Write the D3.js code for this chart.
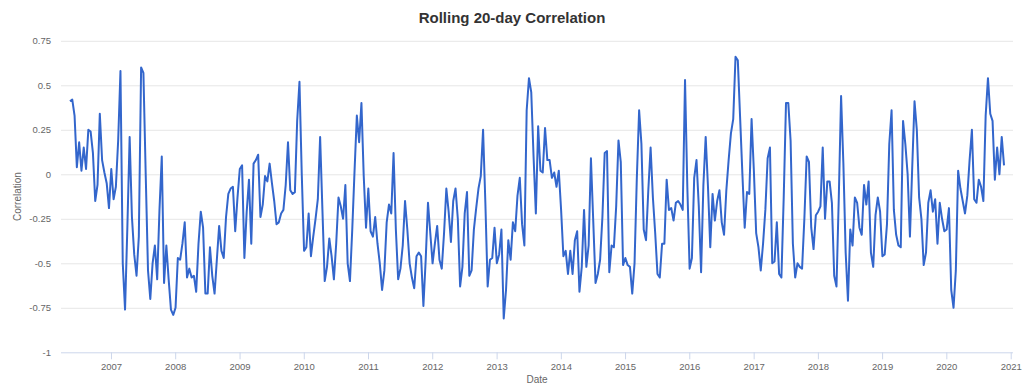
<!DOCTYPE html>
<html><head><meta charset="utf-8">
<script src="https://cdn.jsdelivr.net/npm/d3@7"></script>
<style>
body{margin:0;background:#fff}
svg{display:block;font-family:"Liberation Sans",Arial,Helvetica,sans-serif}
</style>
</head><body>
<svg id="chart" width="1024" height="392"></svg>
<script>
const chartTitle = "Rolling 20-day Correlation";
const yAxisTitle = "Correlation";
const xAxisTitle = "Date";
const firstDate = "2006-05-13";
const lastDate = "2020-11-24";
const yTickValues = [-1, -0.75, -0.5, -0.25, 0, 0.25, 0.5, 0.75];
const xTickYears = [2007,2008,2009,2010,2011,2012,2013,2014,2015,2016,2017,2018,2019,2020,2021];

// Correlation values, in time order (split by period)
const corrA = [0.41,0.42,0.33,0.04,0.18,0.02,0.15,0.03,0.25,0.24,0.12,-0.15,-0.06,0.34,0.08,0.01,-0.05,-0.19,0.03,-0.14,-0.07,0.19,0.58,-0.50,-0.76,-0.30,0.21,-0.24,-0.45,-0.57,-0.35,0.60,0.57,0.00,-0.54,-0.70,-0.50,-0.40,-0.59,-0.20,0.10,-0.61,-0.40,-0.59,-0.76,-0.79,-0.75,-0.47];
const corrB = [-0.48,-0.39,-0.27,-0.58,-0.53,-0.58,-0.57,-0.66,-0.39,-0.21,-0.30,-0.67,-0.67,-0.41,-0.57,-0.67,-0.48,-0.29,-0.43,-0.47,-0.24,-0.11,-0.08,-0.07,-0.32,-0.13,0.03,0.05,-0.47,-0.21,-0.03,-0.39,0.06,0.08,0.11,-0.24,-0.17,-0.01,-0.04,0.06,-0.05,-0.15,-0.28,-0.27,-0.22,-0.20,-0.06,0.18,-0.09,-0.11,-0.10,0.30];
const corrC = [0.52,0.00,-0.43,-0.41,-0.22,-0.46,-0.35,-0.25,-0.14,0.21,-0.20,-0.60,-0.52,-0.36,-0.46,-0.59,-0.39,-0.13,-0.18,-0.25,-0.06,-0.50,-0.60,-0.31,0.02,0.33,0.18,0.40,-0.01,-0.30,-0.08,-0.32,-0.35,-0.24,-0.39,-0.50,-0.65,-0.54,-0.27,-0.17,-0.22,0.12,-0.31,-0.59,-0.53,-0.40,-0.15,-0.31,-0.50,-0.58,-0.64,-0.46,-0.44,-0.46];
const corrD = [-0.74,-0.48,-0.16,-0.33,-0.50,-0.39,-0.29,-0.48,-0.53,-0.33,-0.08,-0.21,-0.38,-0.15,-0.08,-0.25,-0.63,-0.52,-0.22,-0.10,-0.57,-0.54,-0.31,-0.19,-0.08,-0.01,0.25,-0.16,-0.63,-0.48,-0.47,-0.30,-0.50,-0.45,-0.31,-0.81,-0.65,-0.37,-0.48,-0.27,-0.32,-0.12,-0.02,-0.28,-0.40,0.36,0.54,0.46,0.10,-0.22,0.27];
const corrE = [0.02,0.01,0.26,0.08,0.08,-0.02,0.01,-0.07,0.02,-0.20,-0.46,-0.43,-0.56,-0.43,-0.56,-0.37,-0.32,-0.66,-0.52,-0.20,-0.52,-0.40,0.09,-0.26,-0.61,-0.56,-0.48,-0.24,0.12,0.13,-0.55,-0.40,-0.41,-0.18,0.19,0.07,-0.51,-0.47,-0.51,-0.52,-0.67,-0.50,-0.02,0.36,0.17,-0.31,-0.37,-0.09,0.15,-0.13,-0.33,-0.56];
const corrF = [-0.58,-0.39,-0.39,-0.03,-0.20,-0.19,-0.26,-0.16,-0.15,-0.17,-0.20,0.53,-0.07,-0.53,-0.47,-0.02,0.08,-0.18,-0.55,-0.06,0.21,-0.07,-0.41,-0.11,-0.26,-0.15,-0.09,-0.27,-0.34,-0.09,0.08,0.23,0.31,0.66,0.64,0.32,0.00,-0.30,-0.10,-0.11,0.31,0.02,-0.33,-0.41,-0.54,-0.39,-0.20,0.09,0.15,-0.50,-0.49,-0.27,-0.56,-0.58];
const corrG = [-0.13,0.40,0.40,0.19,-0.39,-0.58,-0.50,-0.52,-0.53,-0.25,0.10,0.07,-0.30,-0.42,-0.23,-0.21,-0.18,0.15,-0.25,-0.04,-0.04,-0.16,-0.57,-0.63,-0.13,0.44,0.06,-0.44,-0.71,-0.31,-0.40,-0.13,-0.16,-0.30,-0.34,-0.06,-0.17,-0.04,-0.44,-0.52,-0.23,-0.13,-0.21,-0.46,-0.45,-0.28,0.17,0.36,-0.20,-0.34,-0.40,-0.41];
const corrH = [0.30,0.17,0.00,-0.35,0.04,0.41,0.25,-0.13,-0.25,-0.51,-0.44,-0.16,-0.09,-0.21,-0.14,-0.39,-0.16,-0.25,-0.32,-0.31,-0.19,-0.65,-0.75,-0.54,0.02,-0.08,-0.15,-0.22,-0.12,0.08,0.25,-0.14,-0.16,-0.03,-0.07,-0.15,0.33,0.54,0.34,0.30,-0.03,0.15,0.00,0.21,0.05];

(function draw() {
  const values = [].concat(corrA, corrB, corrC, corrD, corrE, corrF, corrG, corrH);
  const t0 = new Date(firstDate + "T00:00:00Z").getTime();
  const t1 = new Date(lastDate + "T00:00:00Z").getTime();
  const data = values.map((v, i) => ({date: new Date(t0 + (t1 - t0) * i / (values.length - 1)), v}));

  const W = 1024;
  const pLeft = 61, pRight = 1013, pTop = 40.8, pBottom = 352.3;
  const svg = d3.select("#chart");

  const x = d3.scaleUtc()
    .domain([new Date(Date.UTC(2006, 2, 23)), new Date(Date.UTC(2021, 0, 14))])
    .range([pLeft, pRight]);
  const y = d3.scaleLinear().domain([-1, 0.75]).range([pBottom, pTop]);

  svg.append("text").attr("x", W / 2).attr("y", 23).attr("text-anchor", "middle")
    .attr("font-size", 15).attr("font-weight", "bold").attr("fill", "#333").text(chartTitle);

  const yAxis = svg.append("g").attr("transform", `translate(${pLeft},0)`)
    .call(d3.axisLeft(y).tickValues(yTickValues).tickSize(-(pRight - pLeft)).tickPadding(10)
      .tickFormat(d => String(d)));
  yAxis.select(".domain").remove();
  yAxis.selectAll(".tick line").attr("stroke", "#e6e6e6").attr("stroke-width", 1)
    .filter(d => d === -1).remove();
  yAxis.selectAll(".tick text").attr("fill", "#666").attr("font-size", 9.5)
    .attr("font-family", "'Liberation Sans',Arial,sans-serif");

  const xAxis = svg.append("g").attr("transform", `translate(0,${pBottom})`)
    .call(d3.axisBottom(x)
      .tickValues(xTickYears.map(yr => new Date(Date.UTC(yr, 0, 1))))
      .tickFormat(d3.utcFormat("%Y")).tickSize(7).tickSizeOuter(0).tickPadding(4));
  xAxis.select(".domain").attr("stroke", "#ccd6eb").attr("d", `M${pLeft},0.5H${pRight}`);
  xAxis.selectAll(".tick line").attr("stroke", "#ccd6eb");
  xAxis.selectAll(".tick text").attr("fill", "#666").attr("font-size", 9.5)
    .attr("font-family", "'Liberation Sans',Arial,sans-serif");

  svg.append("text").attr("x", (pLeft + pRight) / 2).attr("y", 383).attr("text-anchor", "middle")
    .attr("font-size", 10).attr("fill", "#666").text(xAxisTitle);
  svg.append("text").attr("transform", `translate(21,${(pTop + pBottom) / 2}) rotate(-90)`)
    .attr("text-anchor", "middle").attr("font-size", 10).attr("fill", "#666").text(yAxisTitle);

  const line = d3.line().x(d => x(d.date)).y(d => y(d.v));
  svg.append("path").datum(data).attr("d", line).attr("fill", "none")
    .attr("stroke", "#3366cc").attr("stroke-width", 2).attr("stroke-linejoin", "round");
})();
</script>
</body></html>
